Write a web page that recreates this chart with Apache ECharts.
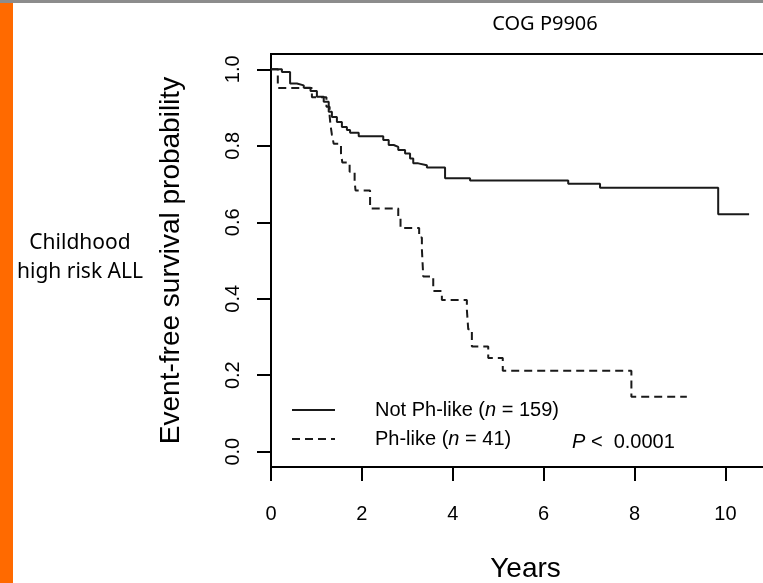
<!DOCTYPE html>
<html lang="en">
    <head>
        <meta charset="utf-8">
        <title>COG P9906</title>
        <script src="https://cdn.jsdelivr.net/npm/echarts@6/dist/echarts.min.js"></script>
        <style>
            html, body { margin: 0; padding: 0; background: #fff; }
        </style>
    </head>

    <body>
        <div id="echart" style="width: 763px; height: 583px;"></div>
        <script>
            // Kaplan-Meier steps: [years, survival]
            let notPhLike = [
                [0, 1.0], [0.24, 0.993], [0.42, 0.963], [0.57, 0.958], [0.72, 0.952],
                [0.87, 0.943], [1.01, 0.928], [1.16, 0.915], [1.27, 0.889], [1.34, 0.875],
                [1.45, 0.862], [1.56, 0.849], [1.67, 0.841], [1.74, 0.834], [1.93, 0.825],
                [2.47, 0.815], [2.59, 0.802], [2.70, 0.797], [2.80, 0.789], [2.95, 0.780],
                [3.06, 0.767], [3.13, 0.754], [3.24, 0.749], [3.43, 0.743], [3.83, 0.715],
                [4.38, 0.709], [6.54, 0.701], [7.24, 0.690], [9.84, 0.621], [10.52, 0.621]
            ];
            let phLike = [
                [0, 1.0], [0.15, 0.951], [0.90, 0.927], [1.22, 0.902], [1.29, 0.878],
                [1.31, 0.854], [1.34, 0.829], [1.38, 0.805], [1.54, 0.780], [1.57, 0.756],
                [1.73, 0.732], [1.84, 0.707], [1.86, 0.683], [2.18, 0.636], [2.80, 0.610],
                [2.85, 0.585], [3.26, 0.560], [3.32, 0.530], [3.35, 0.458], [3.57, 0.420],
                [3.76, 0.397], [4.31, 0.371], [4.34, 0.320], [4.42, 0.275], [4.78, 0.245],
                [5.10, 0.212], [7.93, 0.144], [9.15, 0.144]
            ];
            let xTicks = [0, 2, 4, 6, 8, 10];
            let yTicks = [0, 0.2, 0.4, 0.6, 0.8, 1.0];

            let axisFont = 'Liberation Sans';
            let noteFont = 'Noto Sans';

            let myChart = echarts.init(document.getElementById('echart'));
            let option = {
                animation: false,
                title: {
                    text: 'COG P9906',
                    left: 540,
                    top: 9,
                    textAlign: 'center',
                    textStyle: { fontFamily: noteFont, fontSize: 20, fontWeight: 'normal', color: '#000' }
                },
                grid: {
                    left: 271, top: 54, right: -17, bottom: 116,
                    outerBoundsMode: 'none',
                    show: true, borderColor: '#000', borderWidth: 2,
                    backgroundColor: 'transparent'
                },
                xAxis: {
                    type: 'value',
                    min: 0, max: 11.2,
                    name: 'Years',
                    nameLocation: 'middle',
                    nameGap: 88,
                    nameTextStyle: { fontFamily: axisFont, fontSize: 28, color: '#000' },
                    axisLine: { show: true, onZero: false, lineStyle: { color: '#000', width: 2 } },
                    axisTick: { show: true, inside: false, length: 14, lineStyle: { color: '#000', width: 2 }, customValues: xTicks },
                    axisLabel: { fontFamily: axisFont, fontSize: 20, color: '#000', margin: 37, customValues: xTicks },
                    splitLine: { show: false }
                },
                yAxis: {
                    type: 'value',
                    min: -0.04, max: 1.04,
                    name: 'Event-free survival probability',
                    nameLocation: 'middle',
                    nameGap: 86,
                    nameRotate: 90,
                    nameTextStyle: { fontFamily: axisFont, fontSize: 28, color: '#000' },
                    axisLine: { show: true, onZero: false, lineStyle: { color: '#000', width: 2 } },
                    axisTick: { show: true, length: 14, lineStyle: { color: '#000', width: 2 }, customValues: yTicks },
                    axisLabel: {
                        fontFamily: axisFont, fontSize: 20, color: '#000', margin: 28, rotate: 90,
                        customValues: yTicks,
                        formatter: v => v.toFixed(1)
                    },
                    splitLine: { show: false }
                },
                series: [
                    {
                        name: 'Not Ph-like',
                        type: 'line',
                        step: 'end',
                        symbol: 'none',
                        data: notPhLike,
                        lineStyle: { color: '#1a1a1a', width: 2 }
                    },
                    {
                        name: 'Ph-like',
                        type: 'line',
                        step: 'end',
                        symbol: 'none',
                        data: phLike,
                        lineStyle: { color: '#1a1a1a', width: 2, type: [8, 5] }
                    }
                ],
                graphic: [
                    // slide decoration
                    { type: 'rect', x: 0, y: 0, shape: { width: 13, height: 583 }, style: { fill: '#ff6a00' } },
                    { type: 'rect', x: 0, y: 0, shape: { width: 763, height: 3 }, style: { fill: '#8c8c8c' } },
                    {
                        type: 'text', x: 80, y: 243,
                        style: {
                            text: 'Childhood', align: 'center', verticalAlign: 'middle',
                            font: '21px "Noto Sans"', fill: '#000'
                        }
                    },
                    {
                        type: 'text', x: 80, y: 272,
                        style: {
                            text: 'high risk ALL', align: 'center', verticalAlign: 'middle',
                            font: '21px "Noto Sans"', fill: '#000'
                        }
                    },
                    // legend
                    { type: 'line', shape: { x1: 292, y1: 410, x2: 335, y2: 410 }, style: { stroke: '#1a1a1a', lineWidth: 2 } },
                    { type: 'line', shape: { x1: 292, y1: 439, x2: 335, y2: 439 }, style: { stroke: '#1a1a1a', lineWidth: 2, lineDash: [8, 5] } },
                    {
                        type: 'text', x: 375, y: 410,
                        style: {
                            text: 'Not Ph-like ({i|n} = 159)',
                            verticalAlign: 'middle',
                            font: '20px "Liberation Sans"', fill: '#000',
                            rich: { i: { font: 'italic 20px "Liberation Sans"', fill: '#000' } }
                        }
                    },
                    {
                        type: 'text', x: 375, y: 439,
                        style: {
                            text: 'Ph-like ({i|n} = 41)',
                            verticalAlign: 'middle',
                            font: '20px "Liberation Sans"', fill: '#000',
                            rich: { i: { font: 'italic 20px "Liberation Sans"', fill: '#000' } }
                        }
                    },
                    {
                        type: 'text', x: 572, y: 442,
                        style: {
                            text: '{i|P} <  0.0001',
                            verticalAlign: 'middle',
                            font: '20px "Liberation Sans"', fill: '#000',
                            rich: { i: { font: 'italic 20px "Liberation Sans"', fill: '#000' } }
                        }
                    }
                ]
            };
            myChart.setOption(option);
        </script>
    </body>
</html>
